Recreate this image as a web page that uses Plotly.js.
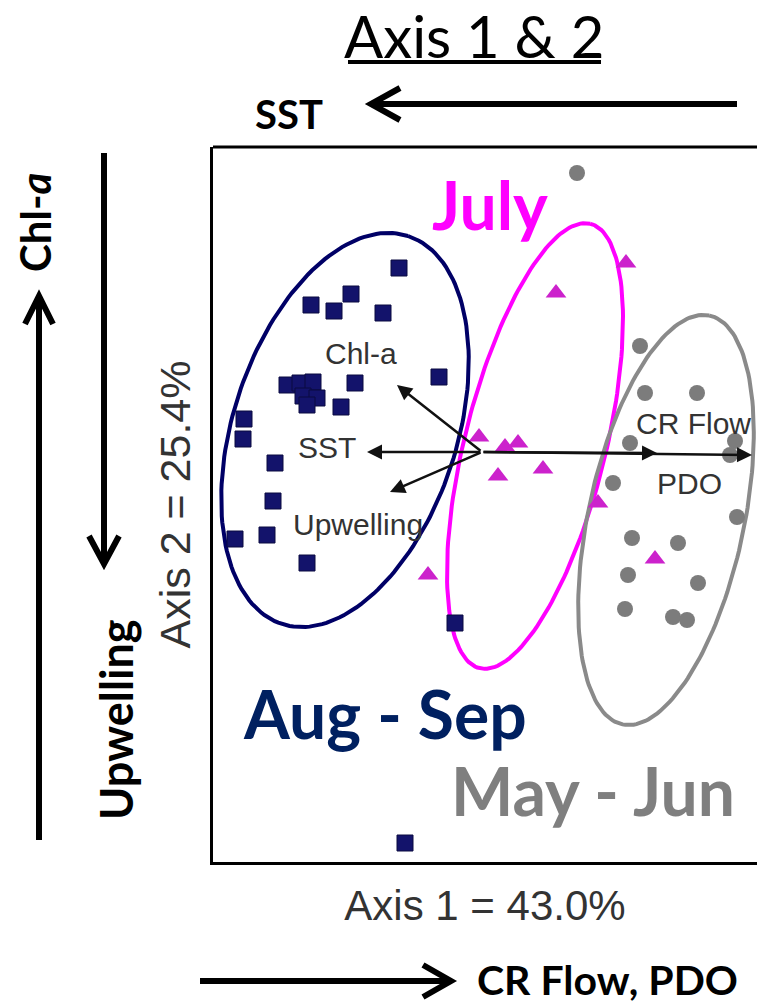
<!DOCTYPE html>
<html>
<head>
<meta charset="utf-8">
<script src="https://cdn.plot.ly/plotly-3.0.1.min.js"></script>
<style>html,body{margin:0;padding:0;background:#fff;overflow:hidden}#chart{width:757px;height:1004px}</style>
</head>
<body>
<div id="chart"></div>
<script>
// ---- Data (ordination scores, Axis 1 / Axis 2) ----
const augSepX = [-0.83,-1.71,-1.31,-1.48,-0.99,-0.43,-1.27,-1.95,-1.82,-1.69,-1.79,-1.65,-1.75,-1.41,-2.38,-2.39,-2.07,-2.09,-2.47,-2.15,-1.75,-0.27,-0.77];
const augSepY = [1.84,1.47,1.58,1.41,1.39,0.75,0.69,0.67,0.69,0.70,0.56,0.54,0.47,0.45,0.33,0.13,-0.11,-0.49,-0.87,-0.83,-1.11,-1.71,-3.91];
const julyX = [1.44,0.74,-0.03,0.23,0.36,0.16,0.61,1.16,-0.54,1.73];
const julyY = [1.89,1.59,0.15,0.05,0.09,-0.24,-0.17,-0.51,-1.23,-1.07];
const mayJunX = [0.95,1.58,1.63,2.15,1.48,2.53,2.48,1.31,2.55,1.50,1.96,1.46,2.16,1.43,1.91,2.05];
const mayJunY = [2.79,1.06,0.59,0.59,0.09,0.11,-0.03,-0.31,-0.65,-0.86,-0.91,-1.23,-1.31,-1.57,-1.65,-1.68];

// Environmental vectors (biplot)
const vecNames = ['Chl-a','SST','Upwelling','CR Flow','PDO'];
const vecX = [-0.85,-1.15,-0.92,1.75,2.70];
const vecY = [0.67,0.00,-0.40,-0.01,-0.03];
const vecLabelX = [-1.21,-1.55,-1.24,2.11,2.07];
const vecLabelY = [0.99,0.05,-0.72,0.29,-0.31];

// Group ellipses: centre, semi-axes, tilt (deg)
const ellCX = [-1.37,0.53,1.84];
const ellCY = [0.22,0.06,-0.68];
const ellA = [2.04,2.29,2.09];
const ellB = [1.12,0.705,0.78];
const ellAng = [72,76,78];
const ellColor = ['#000066','#FF00FF','#8a8a8a'];

// Group labels
const groupNames = ['July','Aug - Sep','May - Jun'];
const groupLabelX = [0.08,-0.97,1.11];
const groupLabelY = [2.48,-2.61,-3.38];
const groupColor = ['#FF00FF','#002060','#7F7F7F'];

// ---- layout geometry ----
const W = 757, H = 1004, L = 213, T = 147, B = 142;
const PW = W - L, PH = H - T - B;
const px = v => (v - L) / PW;
const py = v => (H - B - v) / PH;

function ellipseTrace(i) {
  const xs = [], ys = [];
  const th = ellAng[i] * Math.PI / 180;
  for (let k = 0; k <= 180; k++) {
    const t = 2 * Math.PI * k / 180;
    const u = ellA[i] * Math.cos(t), w = ellB[i] * Math.sin(t);
    xs.push(ellCX[i] + u * Math.cos(th) - w * Math.sin(th));
    ys.push(ellCY[i] + u * Math.sin(th) + w * Math.cos(th));
  }
  return {x: xs, y: ys, mode: 'lines', type: 'scatter', hoverinfo: 'skip',
    line: {color: ellColor[i], width: 4}, showlegend: false};
}

const traces = [
  ellipseTrace(0), ellipseTrace(1), ellipseTrace(2),
  {x: augSepX, y: augSepY, mode: 'markers', type: 'scatter', name: 'Aug - Sep',
   marker: {symbol: 'square', size: 16, color: '#13136b', line: {color: '#0a0a40', width: 1}}},
  {x: julyX, y: julyY, mode: 'markers', type: 'scatter', name: 'July',
   marker: {symbol: 'triangle-up', size: 18, color: '#cc22cc', line: {width: 0}}},
  {x: mayJunX, y: mayJunY, mode: 'markers', type: 'scatter', name: 'May - Jun',
   marker: {symbol: 'circle', size: 16, color: '#7c7c7c', line: {width: 0}}}
];

const annotations = [];
const C = {xanchor: 'center', yanchor: 'middle', showarrow: false};
// vectors
vecNames.forEach((n, i) => {
  annotations.push({x: vecX[i], y: vecY[i], ax: 0, ay: 0, xref: 'x', yref: 'y', axref: 'x', ayref: 'y',
    text: ' ', font: {size: 1}, showarrow: true, arrowhead: 2, arrowsize: 1.2, arrowwidth: 2.5, arrowcolor: '#111'});
  annotations.push(Object.assign({x: vecLabelX[i], y: vecLabelY[i], xref: 'x', yref: 'y', text: n,
    font: {family: 'Liberation Sans, Arial', size: 30, color: '#333'}}, C));
});
// group labels
groupNames.forEach((n, i) => {
  annotations.push(Object.assign({x: groupLabelX[i], y: groupLabelY[i], xref: 'x', yref: 'y', text: '<b>' + n + '</b>',
    font: {family: 'Lato', size: 66, color: groupColor[i]}}, C));
});
// outside labels
annotations.push(Object.assign({x: px(474), y: py(36), xref: 'paper', yref: 'paper', text: 'Axis 1 &amp; 2',
  font: {family: 'Lato', size: 58, color: '#000'}}, C));
annotations.push(Object.assign({x: px(289), y: py(114), xref: 'paper', yref: 'paper', text: '<b>SST</b>',
  font: {family: 'Lato', size: 40, color: '#000'}}, C));
annotations.push(Object.assign({x: px(607), y: py(980), xref: 'paper', yref: 'paper', text: '<b>CR Flow, PDO</b>',
  font: {family: 'Lato', size: 41, color: '#000'}}, C));
annotations.push(Object.assign({x: px(35), y: py(223), xref: 'paper', yref: 'paper', text: '<b>Chl-<i>a</i></b>',
  textangle: -90, font: {family: 'Lato', size: 42, color: '#000'}}, C));
annotations.push(Object.assign({x: px(116), y: py(720), xref: 'paper', yref: 'paper', text: '<b>Upwelling</b>',
  textangle: -90, font: {family: 'Lato', size: 45, color: '#000'}}, C));

function pth(pts) { return pts.map(p => p[0] + ' ' + px(p[1]) + ',' + py(p[2])).join(' '); }
const arrowLine = {color: '#000', width: 6};
const shapes = [
  {type: 'line', xref: 'paper', yref: 'paper', x0: 0, x1: 1.02, y0: 1, y1: 1, line: {color: '#000', width: 3}},
  {type: 'line', xref: 'paper', yref: 'paper', x0: px(348), x1: px(601), y0: py(62), y1: py(62), line: {color: '#000', width: 4}},
  {type: 'path', xref: 'paper', yref: 'paper', line: arrowLine,
   path: pth([['M',737,104],['L',372,104],['M',400,88],['L',371,104],['L',400,120]])},
  {type: 'path', xref: 'paper', yref: 'paper', line: arrowLine,
   path: pth([['M',200,981],['L',450,981],['M',423,965],['L',451,981],['L',423,997]])},
  {type: 'path', xref: 'paper', yref: 'paper', line: arrowLine,
   path: pth([['M',39,840],['L',39,297],['M',25,324],['L',39,296],['L',53,324]])},
  {type: 'path', xref: 'paper', yref: 'paper', line: arrowLine,
   path: pth([['M',104,153],['L',104,563],['M',89,536],['L',104,564],['L',119,536]])}
];

const layout = {
  width: W, height: H,
  margin: {l: L, r: 0, t: T, b: B, pad: 0},
  paper_bgcolor: '#fff', plot_bgcolor: '#fff',
  showlegend: false,
  xaxis: {range: [-2.69, 2.75], showgrid: false, zeroline: false, showticklabels: false, ticks: '',
    showline: true, linecolor: '#000', linewidth: 3, fixedrange: true,
    title: {text: 'Axis 1 = 43.0%', standoff: 27, font: {family: 'Liberation Sans, Arial', size: 42, color: '#333'}}},
  yaxis: {range: [-4.10, 3.05], showgrid: false, zeroline: false, showticklabels: false, ticks: '',
    showline: true, linecolor: '#000', linewidth: 3, fixedrange: true,
    title: {text: 'Axis 2 = 25.4%', standoff: 6, font: {family: 'Liberation Sans, Arial', size: 43, color: '#333'}}},
  annotations: annotations,
  shapes: shapes
};

Plotly.newPlot('chart', traces, layout, {displayModeBar: false, staticPlot: true});
</script>
</body>
</html>
